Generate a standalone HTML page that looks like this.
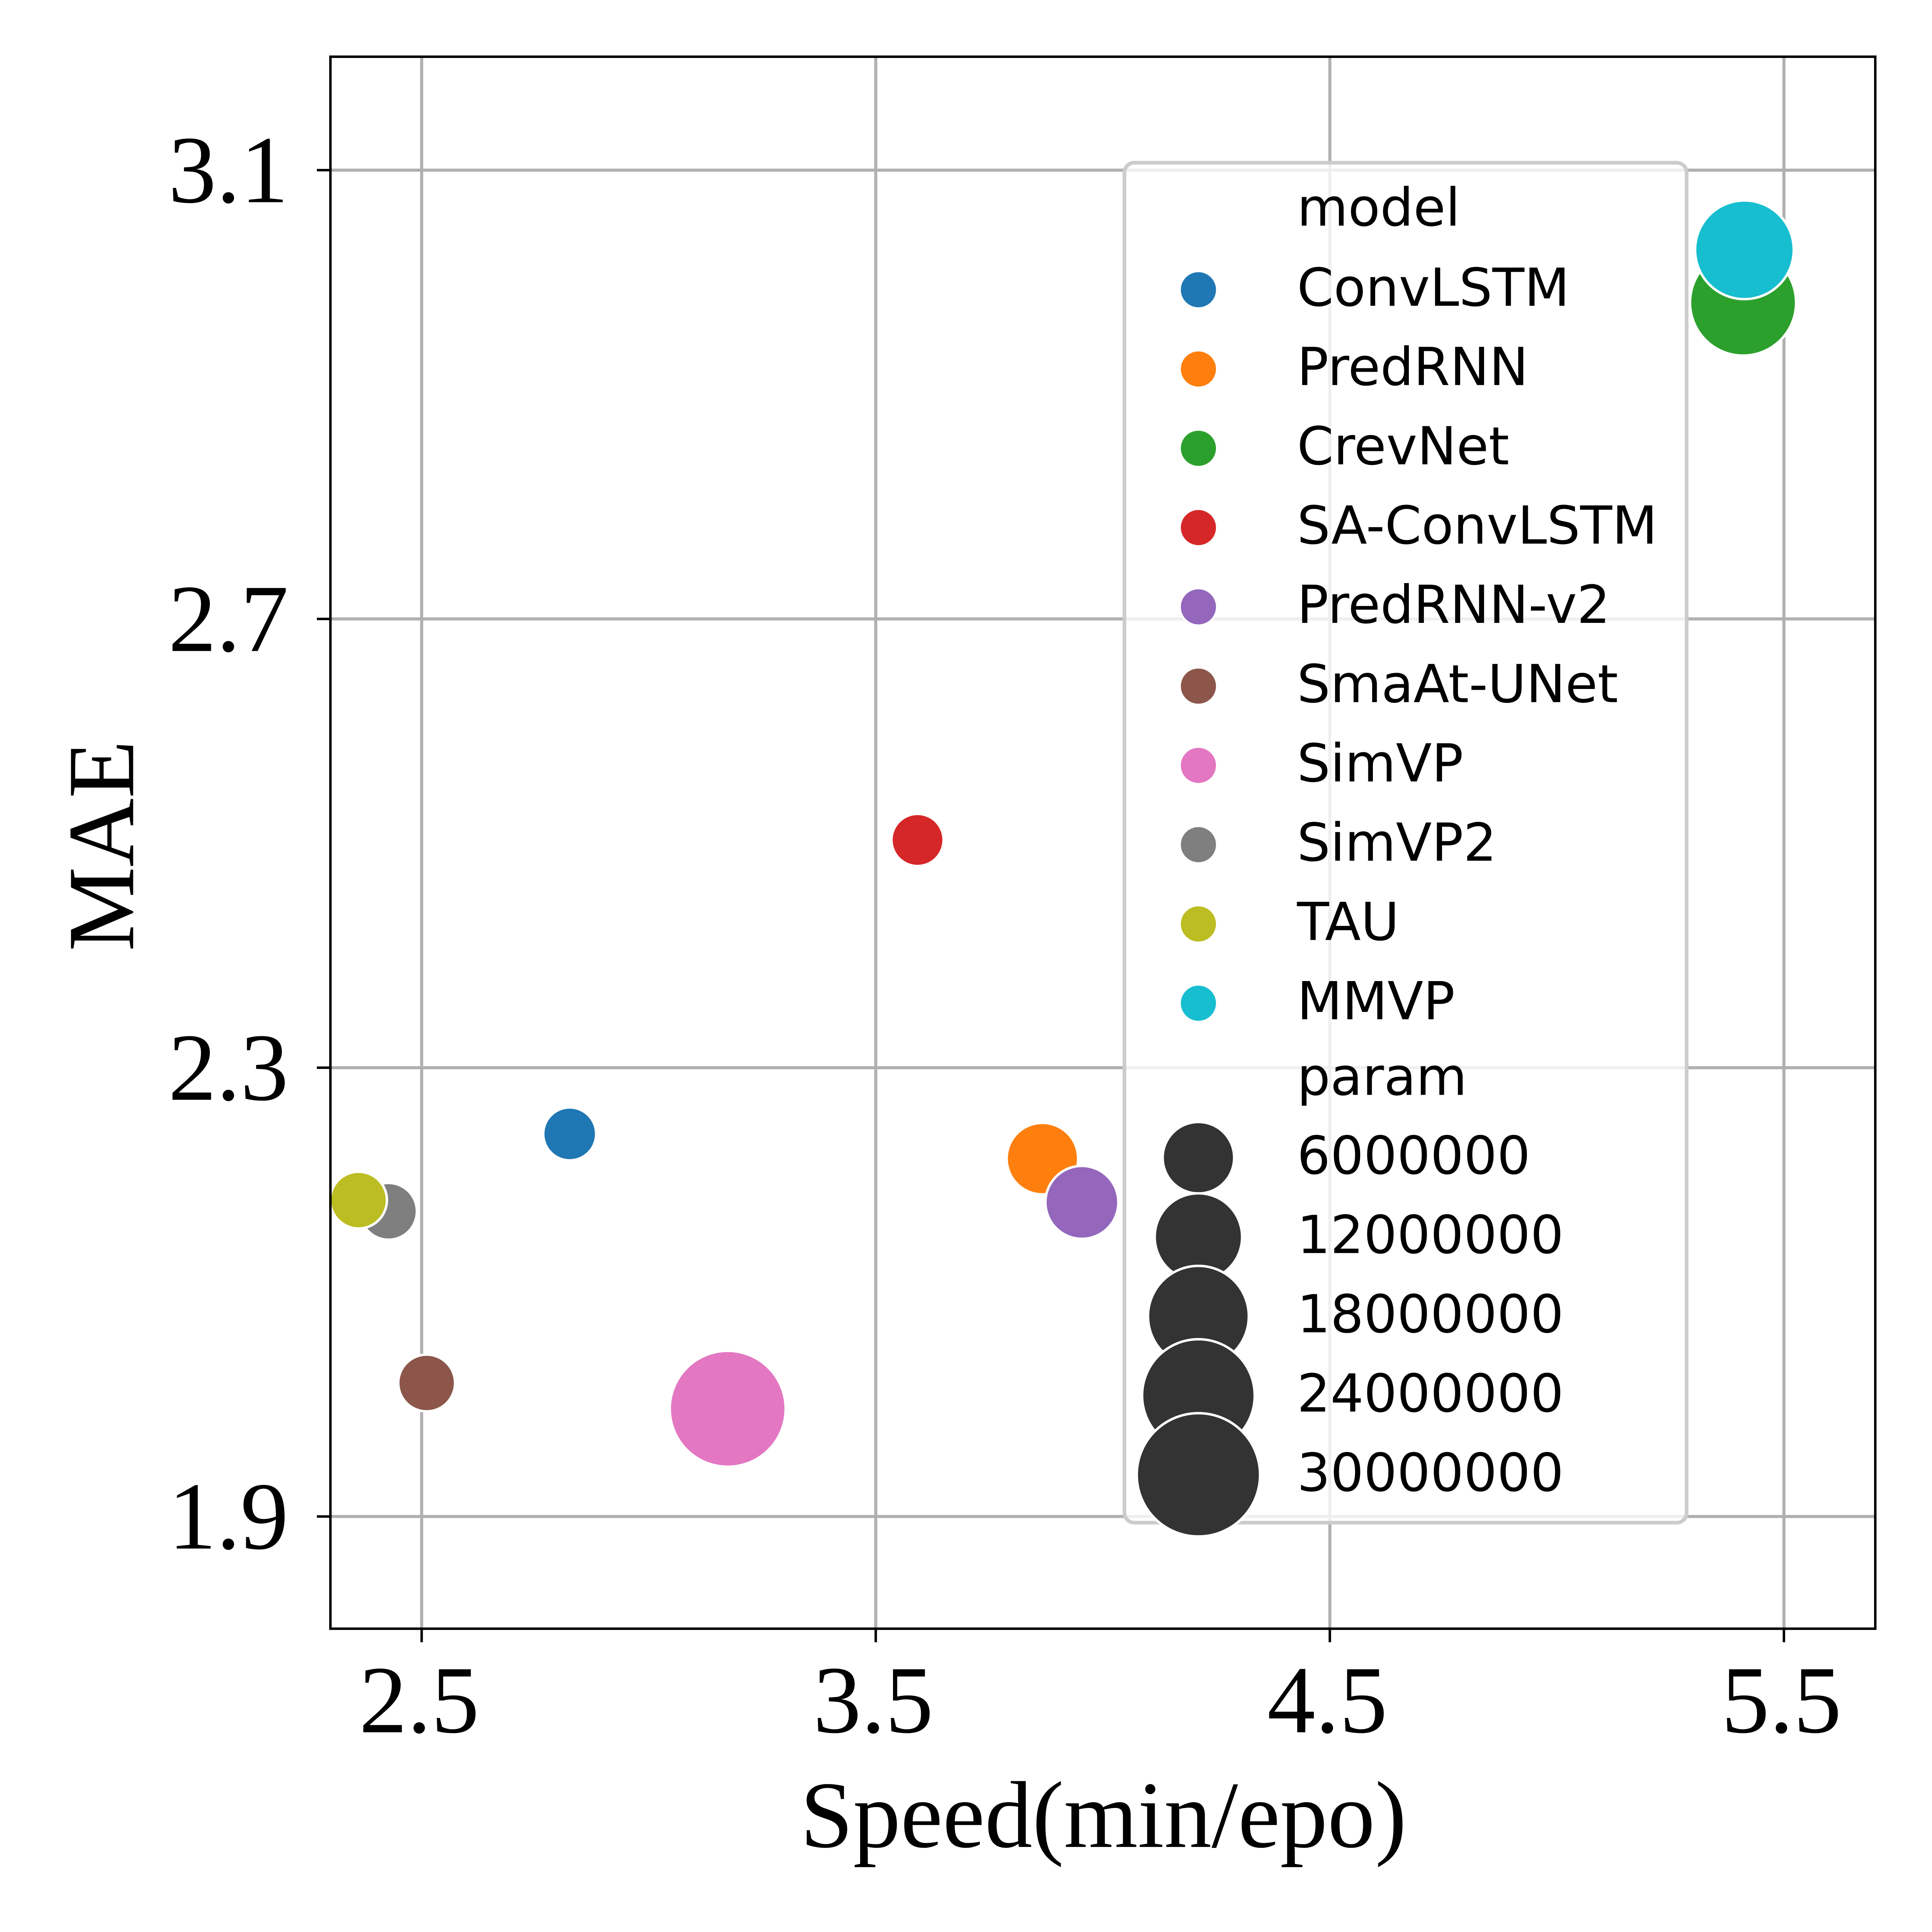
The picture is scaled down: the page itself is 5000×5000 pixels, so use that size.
<!DOCTYPE html>
<html><head><meta charset="utf-8"><style>
html,body{margin:0;padding:0;background:#fff;}
svg{display:block;}
</style></head><body>
<svg id="chart" xmlns="http://www.w3.org/2000/svg" width="5000" height="5000" viewBox="0 0 1567 1567">
<rect width="1567" height="1567" fill="#fff"/>
<g id="grid"></g>
<g id="marks"></g>
<rect x="268" y="46" width="1253" height="1275" fill="none" stroke="#000" stroke-width="2"/>
<g id="ticks"></g>
<text x="895" y="1498" font-family="Liberation Serif, serif" font-size="77" text-anchor="middle">Speed(min/epo)</text>
<text transform="translate(108,686) rotate(-90)" font-family="Liberation Serif, serif" font-size="77" text-anchor="middle">MAE</text>
<g id="legend"></g>
</svg>
<script>
const models = ["ConvLSTM","PredRNN","CrevNet","SA-ConvLSTM","PredRNN-v2","SmaAt-UNet","SimVP","SimVP2","TAU","MMVP"];
const speeds = [2.826,3.867,5.41,3.592,3.954,2.511,3.174,2.427,2.361,5.413];
const maes = [2.241,2.219,2.982,2.503,2.180,2.019,1.996,2.172,2.182,3.029];
const params = [0.5,6,20.6,0.3,6.5,1.5,25.8,1.5,1.5,17];
const colors = ["#1f77b4","#ff7f0e","#2ca02c","#d62728","#9467bd","#8c564b","#e377c2","#7f7f7f","#bcbd22","#17becf"];
const xTicks = [2.5,3.5,4.5,5.5];
const yTicks = [1.9,2.3,2.7,3.1];
const sizeLegend = [6,12,18,24,30];
const sizeLegendLabels = ["6000000","12000000","18000000","24000000","30000000"];

const NS = "http://www.w3.org/2000/svg";
function xs(v){ return 342 + (v-2.5)*368.3; }
function ys(v){ return 1230 - (v-1.9)*910; }
function rs(p){ return Math.sqrt(Math.max(120, 841 + (p-6)*69.1)); }
function mk(tag, attrs, parent){ const e=document.createElementNS(NS,tag); for(const k in attrs) e.setAttribute(k,attrs[k]); parent.appendChild(e); return e; }

const grid=document.getElementById('grid'), ticks=document.getElementById('ticks');
xTicks.forEach(t=>{
  const l=mk('line',{x1:xs(t),x2:xs(t),y1:46,y2:1321,stroke:'#b0b0b0','stroke-width':2.5},grid);
  
  
  const tk=mk('line',{x1:xs(t),x2:xs(t),y1:1321,y2:1332,stroke:'#000','stroke-width':2},ticks);
  
  
  const tx=mk('text',{x:xs(t)-2,y:1405,'font-family':'Liberation Serif, serif','font-size':78,'text-anchor':'middle'},ticks);
  tx.textContent=t.toFixed(1);
  
  
});
yTicks.forEach(t=>{
  const l=mk('line',{x1:268,x2:1521,y1:ys(t),y2:ys(t),stroke:'#b0b0b0','stroke-width':2.5},grid);
  
  
  const tk=mk('line',{x1:257,x2:268,y1:ys(t),y2:ys(t),stroke:'#000','stroke-width':2},ticks);
  
  
  const tx=mk('text',{x:234,y:ys(t)+26,'font-family':'Liberation Serif, serif','font-size':78,'text-anchor':'end'},ticks);
  tx.textContent=t.toFixed(1);
  
  
});

const marks=document.getElementById('marks');
models.forEach((m,i)=>{
  const c=mk('circle',{cx:xs(speeds[i]),cy:ys(maes[i]),r:rs(params[i]),fill:colors[i],stroke:'#fff','stroke-width':2},marks);
  
  
});

const lg=document.getElementById('legend');
const box=mk('rect',{x:912,y:132,width:456,height:1103,rx:8,fill:'#fff','fill-opacity':0.8,stroke:'#cccccc','stroke-width':3},lg);


const ff='DejaVu Sans, Liberation Sans, sans-serif';
function ltext(txt,y,name){
  const t=mk('text',{x:1052,y:y+13,'font-family':ff,'font-size':42.5},lg);
  t.textContent=txt;
  
  
}
const step=64.3;
ltext('model',170,'legend-title-model');
models.forEach((m,i)=>{
  const y=235+i*step;
  const c=mk('circle',{cx:972,cy:y,r:15,fill:colors[i],stroke:'#fff','stroke-width':1.5},lg);
  
  
  ltext(m,y,'legend-entry');
});
ltext('param',875,'legend-title-param');
sizeLegend.forEach((p,i)=>{
  const y=939+i*step;
  const c=mk('circle',{cx:972,cy:y,r:rs(p),fill:'#333333',stroke:'#fff','stroke-width':2},lg);
  
  
  ltext(sizeLegendLabels[i],y,'legend-size-entry');
});
</script>
</body></html>
